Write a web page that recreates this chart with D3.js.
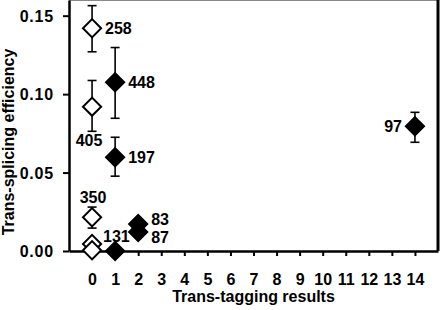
<!DOCTYPE html>
<html>
<head>
<meta charset="utf-8">
<script src="https://cdn.jsdelivr.net/npm/d3@7"></script>
<style>
  body { margin: 0; background: #fff; }
  text { font-family: "Liberation Sans", Arial, sans-serif; font-weight: bold; font-size: 16px; fill: #000; }
</style>
</head>
<body>
<div id="chart"></div>
<script>
// trans-tagging result (x) vs trans-splicing efficiency (y)
const tagging   = [0, 0, 0, 0, 0, 1, 1, 1, 2, 2, 14];
const efficiency = [0.142, 0.092, 0.0215, 0.0045, 0.0005, 0.1075, 0.0598, 0, 0.0172, 0.0121, 0.0795];
const errLow    = [0.127, 0.0763, 0.0146, null, null, 0.0846, 0.0477, null, null, null, 0.0693];
const errHigh   = [0.1564, 0.1087, 0.028, null, null, 0.1297, 0.0725, null, null, null, 0.0884];
const filled    = [false, false, false, false, false, true, true, true, true, true, true];
const labels    = ["258", "405", "350", "131", "", "448", "197", "", "83", "87", "97"];
const labelSide = ["right", "below", "above", "upright", "", "right", "right", "", "rightup", "rightdown", "left"];

const xTicks = d3.range(0, 15);
const yTicks = [0, 0.05, 0.10, 0.15];

const width = 440, height = 310;
const m = { left: 69, right: 438, top: 0, bottom: 251 };

const svg = d3.select("#chart").append("svg")
  .attr("width", width)
  .attr("height", height);

const x = d3.scaleLinear().domain([-1, 15]).range([m.left, m.right]);
const y = d3.scaleLinear().domain([0, 0.16]).range([m.bottom, m.top]);

// frame: thin top, thick right
svg.append("line")
  .attr("x1", m.left).attr("x2", m.right)
  .attr("y1", 0.5).attr("y2", 0.5)
  .attr("stroke", "#888").attr("stroke-width", 1);
svg.append("line")
  .attr("x1", m.right).attr("x2", m.right)
  .attr("y1", 0).attr("y2", m.bottom)
  .attr("stroke", "#000").attr("stroke-width", 3);

const yAxis = svg.append("g")
  .attr("transform", "translate(" + m.left + ",0)")
  .call(d3.axisLeft(y).tickValues(yTicks).tickFormat(d3.format(".2f"))
    .tickSize(6).tickSizeOuter(0).tickPadding(9));

const xAxis = svg.append("g")
  .attr("transform", "translate(0," + m.bottom + ")")
  .call(d3.axisBottom(x).tickValues(xTicks).tickSize(5).tickSizeOuter(0));
xAxis.selectAll("text").attr("y", 34).attr("dy", 0);

svg.selectAll(".domain").attr("stroke-width", 2.5);
svg.selectAll(".tick line").attr("stroke-width", 2);
svg.selectAll("g").attr("font-size", null).attr("font-family", null);
yAxis.selectAll("text").attr("dy", "0.36em").attr("letter-spacing", "0.8px");

// axis titles
svg.append("text")
  .attr("x", (m.left + m.right) / 2)
  .attr("y", 302)
  .attr("text-anchor", "middle")
  .text("Trans-tagging results");

svg.append("text")
  .attr("transform", "translate(14,142) rotate(-90)")
  .attr("text-anchor", "middle")
  .text("Trans-splicing efficiency");

const pts = tagging.map((t, i) => ({
  x: t, y: efficiency[i], lo: errLow[i], hi: errHigh[i],
  filled: filled[i], label: labels[i], side: labelSide[i]
}));

// error bars
const eb = svg.append("g").attr("stroke", "#000").attr("stroke-width", 1.6);
pts.filter(d => d.lo !== null).forEach(d => {
  eb.append("line")
    .attr("x1", x(d.x)).attr("x2", x(d.x))
    .attr("y1", y(d.lo)).attr("y2", y(d.hi));
  [d.lo, d.hi].forEach(v => {
    eb.append("line")
      .attr("x1", x(d.x) - 4.5).attr("x2", x(d.x) + 4.5)
      .attr("y1", y(v)).attr("y2", y(v));
  });
});

// diamonds
const diamond = d3.symbol().type(d3.symbolSquare).size(165);
svg.append("g").selectAll("path")
  .data(pts)
  .join("path")
    .attr("d", diamond)
    .attr("transform", d => "translate(" + x(d.x) + "," + y(d.y) + ") rotate(45)")
    .attr("fill", d => d.filled ? "#000" : "#fff")
    .attr("stroke", "#000")
    .attr("stroke-width", 2);

// point labels
svg.append("g").selectAll("text")
  .data(pts.filter(d => d.label))
  .join("text")
    .attr("x", d => {
      const px = x(d.x);
      if (d.side.startsWith("right")) return px + 13;
      if (d.side === "left") return px - 13;
      if (d.side === "upright") return px + 11;
      if (d.side === "below") return px - 3;
      return px + 1;
    })
    .attr("y", d => {
      if (d.side === "below") return y(d.lo) + 9;
      if (d.side === "above") return y(d.hi) - 10;
      if (d.side === "upright") return y(d.y) - 8;
      if (d.side === "rightup") return y(d.y) - 5;
      if (d.side === "rightdown") return y(d.y) + 5;
      return y(d.y);
    })
    .attr("dy", "0.36em")
    .attr("text-anchor", d => d.side === "left" ? "end" : (d.side === "below" || d.side === "above") ? "middle" : "start")
    .text(d => d.label);
</script>
</body>
</html>
